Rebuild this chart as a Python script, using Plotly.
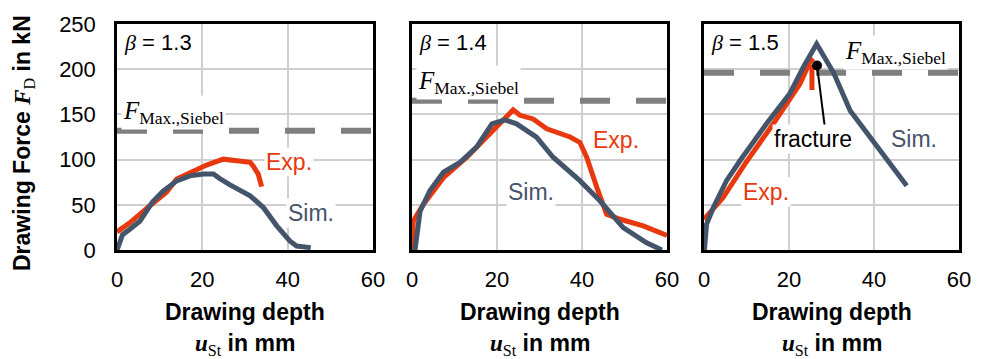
import plotly.graph_objects as go

# Drawing force over drawing depth for three drawing ratios (beta)
betas = ["1.3", "1.4", "1.5"]

# beta = 1.3
depth_13_exp = [0, 3.0, 7.7, 11.6, 14.0, 17.9, 21.0, 24.9, 27.3, 29.6, 31.2, 31.9, 33.1, 33.9]
force_13_exp = [20, 30, 49, 64, 78.5, 88, 94, 100.5, 99, 98, 97, 93, 84, 70]
depth_13_sim = [0, 1.3, 3.0, 5.4, 8.3, 10.8, 14.0, 17.1, 20.2, 22.6, 24.1, 26.5, 31.2, 34.3, 37.4, 40.5, 42.1, 45.4]
force_13_sim = [0, 17, 23, 32, 53, 65, 76.5, 82, 84, 84, 79, 72, 60, 47, 27, 10, 4.4, 2.6]

# beta = 1.4
depth_14_exp = [0, 0.3, 2.7, 7.4, 12.9, 17.6, 20.7, 22.3, 23.8, 25.4, 28.5, 31.7, 35.0, 37.2, 39.5, 41.1, 43.5, 45.8, 49.0, 54.4, 60.0]
force_14_exp = [0, 32, 50.7, 80, 102.6, 125, 139.6, 149, 155, 149, 145, 134, 128, 125, 119, 102.6, 69, 39.6, 34, 26.7, 16]
depth_14_sim = [0.7, 1.9, 4.2, 7.4, 11.3, 15.2, 18.8, 21.9, 24.6, 29.3, 33.2, 39.5, 44.2, 49.7, 55.2, 58.8]
force_14_sim = [0, 43, 65.6, 86, 97, 113.7, 139.6, 144, 139.6, 124.8, 102.6, 76.7, 54.4, 24.8, 8, 0]

# beta = 1.5
depth_15_exp = [0, 4.5, 9.6, 16.3, 22.6, 24.9, 25.7]
force_15_exp = [34, 58, 95, 139.6, 184, 208, 212]
depth_15_exp_drop = [25.4, 25.4]
force_15_exp_drop = [205, 177]
depth_15_sim = [0.1, 0.6, 2.2, 5.3, 8.5, 14.7, 20.2, 23.4, 26.5, 30.5, 34.4, 39.8, 43.5, 47.7]
force_15_sim = [0, 28.5, 47, 76.7, 99, 139.6, 173, 202.6, 228, 196, 154, 120, 99, 71]

# Maximum drawing force according to Siebel
siebel_max = [132, 165, 196]

# Fracture of the experimental part (beta = 1.5)
fracture_point = (26.6, 204)
fracture_leader_end = (28.4, 137)

RED = "#E8380D"
BLUE = "#44546A"
GRAY = "#7F7F7F"
GRID = "#CFCFCF"
SANS = "Liberation Sans"
SERIF = "Liberation Serif"

x_domains = [[117 / 988, 373 / 988], [412 / 988, 667 / 988], [704 / 988, 959 / 988]]
y_domain = [1 - 250 / 359, 1 - 24 / 359]

exp_data = [(depth_13_exp, force_13_exp), (depth_14_exp, force_14_exp), (depth_15_exp, force_15_exp)]
sim_data = [(depth_13_sim, force_13_sim), (depth_14_sim, force_14_sim), (depth_15_sim, force_15_sim)]

fig = go.Figure()

for i in range(3):
    xa = "x" if i == 0 else f"x{i + 1}"
    ya = "y" if i == 0 else f"y{i + 1}"
    # Siebel reference line
    fig.add_trace(go.Scatter(
        x=[0, 60], y=[siebel_max[i], siebel_max[i]], mode="lines",
        line=dict(color=GRAY, width=6, dash="30px,26px"),
        xaxis=xa, yaxis=ya, hoverinfo="skip", showlegend=False))
    # Experiment
    fig.add_trace(go.Scatter(
        x=exp_data[i][0], y=exp_data[i][1], mode="lines",
        line=dict(color=RED, width=5), xaxis=xa, yaxis=ya,
        name="Exp.", showlegend=False))
    if i == 2:
        fig.add_trace(go.Scatter(
            x=depth_15_exp_drop, y=force_15_exp_drop, mode="lines",
            line=dict(color=RED, width=5), xaxis=xa, yaxis=ya,
            hoverinfo="skip", showlegend=False))
    # Simulation
    fig.add_trace(go.Scatter(
        x=sim_data[i][0], y=sim_data[i][1], mode="lines",
        line=dict(color=BLUE, width=5), xaxis=xa, yaxis=ya,
        name="Sim.", showlegend=False))

# Fracture marker with leader line
fig.add_trace(go.Scatter(
    x=[fracture_point[0], fracture_leader_end[0]],
    y=[fracture_point[1], fracture_leader_end[1]],
    mode="lines", line=dict(color="black", width=2),
    xaxis="x3", yaxis="y3", hoverinfo="skip", showlegend=False))
fig.add_trace(go.Scatter(
    x=[fracture_point[0]], y=[fracture_point[1]], mode="markers",
    marker=dict(color="black", size=10), xaxis="x3", yaxis="y3",
    hoverinfo="skip", showlegend=False, cliponaxis=False))

layout = dict(
    width=988, height=359,
    margin=dict(l=0, r=0, t=0, b=0),
    paper_bgcolor="white", plot_bgcolor="white",
    showlegend=False,
    font=dict(family=SANS, size=22, color="black"),
)

for i in range(3):
    sfx = "" if i == 0 else str(i + 1)
    layout[f"xaxis{sfx}"] = dict(
        domain=x_domains[i], range=[0, 60], tickvals=[0, 20, 40, 60],
        showgrid=True, gridcolor=GRID, gridwidth=1.5, zeroline=False,
        showline=True, linecolor="black", linewidth=2.5, mirror=True,
        ticks="", tickfont=dict(family=SANS, size=22, color="black"),
        ticklabelstandoff=8,
        anchor="y" + sfx, layer="below traces", automargin=False,
        fixedrange=True,
    )
    layout[f"yaxis{sfx}"] = dict(
        domain=y_domain, range=[0, 250], dtick=50,
        showgrid=True, gridcolor=GRID, gridwidth=1.5, zeroline=False,
        showline=True, linecolor="black", linewidth=2.5, mirror=True,
        ticks="", showticklabels=(i == 0),
        tickfont=dict(family=SANS, size=22, color="black"),
        ticklabelstandoff=14,
        anchor="x" + sfx, layer="below traces", automargin=False,
        fixedrange=True,
    )

fig.update_layout(**layout)

annotations = []

def label(i, x, y, text, color="black", xanchor="center", size=22, family=SANS):
    sfx = "" if i == 0 else str(i + 1)
    annotations.append(dict(
        x=x, y=y, xref="x" + sfx, yref="y" + sfx, text=text, showarrow=False,
        xanchor=xanchor, yanchor="middle", bgcolor="white", borderpad=1,
        font=dict(family=family, size=size, color=color)))

beta_sym = f'<span style="font-family:{SERIF};font-style:italic">β</span>'
fmax_txt = (f'<span style="font-family:{SERIF}"><i>F</i>'
            f'<sub>Max.,Siebel</sub></span>')

# beta labels
for i, b in enumerate(betas):
    label(i, 1.2, 229, f"{beta_sym} = {b}", xanchor="left")

# Siebel labels
label(0, 1.0, 152, fmax_txt, xanchor="left", size=25, family=SERIF)
label(1, 1.0, 185, fmax_txt, xanchor="left", size=25, family=SERIF)
label(2, 32.6, 218, fmax_txt, xanchor="left", size=25, family=SERIF)

# curve labels
label(0, 40.4, 97, "Exp.", color=RED, size=23)
label(0, 45.4, 40.5, "Sim.", color=BLUE, size=23)
label(1, 48.1, 122, "Exp.", color=RED, size=23)
label(1, 28.1, 64.4, "Sim.", color=BLUE, size=23)
label(2, 14.6, 64.4, "Exp.", color=RED, size=23)
label(2, 49.4, 122.8, "Sim.", color=BLUE, size=23)
label(2, 25.6, 122.8, "fracture", size=23)

# x axis titles (two lines per panel)
for i in range(3):
    cx = (x_domains[i][0] + x_domains[i][1]) / 2
    annotations.append(dict(
        x=cx, y=1 - 312 / 359, xref="paper", yref="paper",
        text="<b>Drawing depth</b>", showarrow=False,
        xanchor="center", yanchor="middle",
        font=dict(family=SANS, size=23, color="black")))
    annotations.append(dict(
        x=cx, y=1 - 344 / 359, xref="paper", yref="paper",
        text=(f'<span style="font-family:{SERIF}"><b><i>u</i></b><sub>St</sub></span>'
              '<b> in mm</b>'),
        showarrow=False, xanchor="center", yanchor="middle",
        font=dict(family=SANS, size=23, color="black")))

# y axis title
annotations.append(dict(
    x=23 / 988, y=1 - 143 / 359, xref="paper", yref="paper",
    text=(f'<b>Drawing Force </b><span style="font-family:{SERIF}"><b><i>F</i></b>'
          '<sub>D</sub></span><b> in kN</b>'),
    showarrow=False, textangle=-90, xanchor="center", yanchor="middle",
    font=dict(family=SANS, size=23, color="black")))

fig.update_layout(annotations=annotations)

fig.write_html("out.html")
